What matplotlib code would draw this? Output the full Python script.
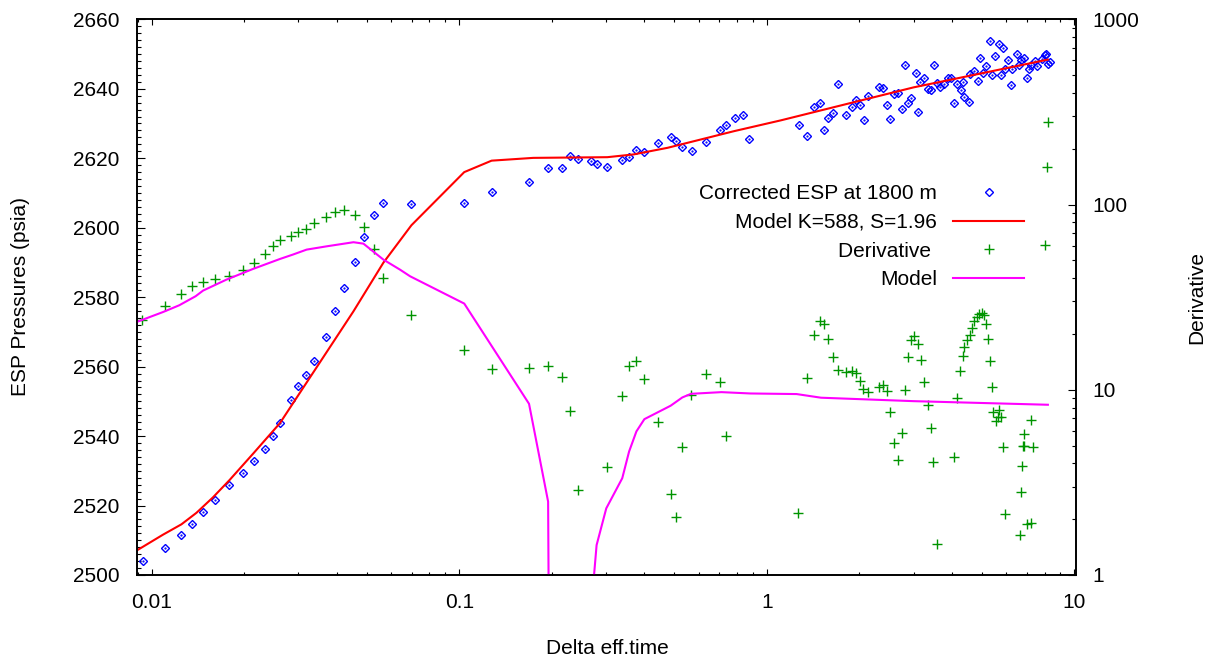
"""
ESP pressure build-up with model fit and derivative (semi-log / log-log twin axes).
"""
import numpy as np
import matplotlib
matplotlib.use("Agg")
import matplotlib.pyplot as plt
from matplotlib.ticker import MultipleLocator, LogLocator, FuncFormatter

plt.rcParams['font.family'] = ['Liberation Sans', 'DejaVu Sans']
plt.rcParams['font.size'] = 15

# Corrected ESP pressure at 1800 m (psia)
p_time = [0.00937, 0.01105, 0.01243, 0.0135, 0.01469, 0.01607, 0.01778, 0.01975,
          0.02154, 0.02328, 0.02472, 0.02611, 0.02829, 0.02996, 0.03167, 0.03363,
          0.03688, 0.03945, 0.04232, 0.04571, 0.04916, 0.05297, 0.05654, 0.0697,
          0.1038, 0.1274, 0.1686, 0.1945, 0.2165, 0.2299, 0.2435, 0.2685, 0.2801,
          0.3018, 0.3388, 0.357, 0.3763, 0.3997, 0.4426, 0.4866, 0.5065, 0.5312,
          0.5697, 0.6364, 0.7063, 0.7351, 0.7884, 0.8356, 0.8758,
          1.274, 1.349, 1.426, 1.485, 1.53, 1.585, 1.645, 1.708, 1.812, 1.892,
          1.954, 2.014, 2.065, 2.133, 2.311, 2.382, 2.46, 2.521, 2.586, 2.672,
          2.753, 2.815, 2.873, 2.944, 3.05, 3.104, 3.151, 3.248, 3.331, 3.41,
          3.49, 3.57, 3.652, 3.764, 3.878, 3.973, 4.064, 4.15, 4.263, 4.34,
          4.383, 4.527, 4.56, 4.71, 4.853, 4.925, 5.03, 5.176, 5.333, 5.38,
          5.515, 5.697, 5.76, 5.857, 5.95, 6.08, 6.22, 6.28, 6.486, 6.62,
          6.72, 6.88, 7.03, 7.1, 7.25, 7.42, 7.58, 7.85, 8.0, 8.1, 8.2, 8.3]
p_psia = [2504.1, 2507.9, 2511.5, 2514.7, 2518.1, 2521.7, 2525.9, 2529.5,
          2532.9, 2536.4, 2539.9, 2543.9, 2550.3, 2554.3, 2557.7, 2561.5,
          2568.6, 2575.9, 2582.7, 2590.2, 2597.2, 2603.7, 2607.0, 2606.9,
          2607.0, 2610.4, 2613.2, 2617.2, 2617.2, 2620.7, 2619.7, 2619.2, 2618.2,
          2617.5, 2619.6, 2620.4, 2622.3, 2621.7, 2624.3, 2626.2, 2625.0, 2623.2,
          2622.2, 2624.7, 2628.1, 2629.5, 2631.7, 2632.4, 2625.5,
          2629.6, 2626.5, 2634.8, 2636.0, 2628.1, 2631.6, 2632.9, 2641.3, 2632.4, 2634.7,
          2636.9, 2635.2, 2630.9, 2638.0, 2640.5, 2640.1, 2635.4, 2631.2, 2638.4, 2638.9,
          2634.2, 2646.8, 2635.8, 2637.3, 2644.5, 2633.4, 2642.0, 2643.0, 2639.9, 2639.6,
          2646.8, 2641.7, 2640.4, 2641.3, 2643.0, 2643.2, 2635.9, 2641.5, 2639.6, 2642.0,
          2637.6, 2636.1, 2644.2, 2645.0, 2642.3, 2649.0, 2644.6, 2646.6, 2653.8, 2644.0,
          2649.5, 2652.8, 2644.0, 2651.8, 2645.6, 2648.2, 2641.2, 2645.6, 2650.0, 2646.8,
          2648.2, 2648.9, 2643.1, 2645.6, 2646.8, 2647.9, 2646.6, 2648.7, 2649.7, 2650.0, 2647.1, 2647.6]

# Model pressure K=588, S=1.96
m_time = [0.00892, 0.01088, 0.01250, 0.01398, 0.0158, 0.01794, 0.0215, 0.02611, 0.03688,
          0.04528, 0.05665, 0.0699, 0.1038, 0.1274, 0.174, 0.303, 0.369, 0.4756,
          0.783, 1.11, 3.0, 8.2]
m_psia = [2507.0, 2511.6, 2514.6, 2517.9, 2522.3, 2527.4, 2535.2, 2543.7, 2563.9,
          2575.9, 2589.9, 2600.7, 2616.0, 2619.3, 2620.1, 2620.3, 2621.1, 2623.0,
          2627.8, 2630.9, 2640.4, 2648.4]

# Pressure derivative
d_time = [0.00933, 0.01105, 0.01243, 0.0135, 0.01469, 0.01607, 0.01778, 0.01975,
          0.02154, 0.02328, 0.02472, 0.02611, 0.02829, 0.02996, 0.03167, 0.03363,
          0.03688, 0.03945, 0.04232, 0.04571, 0.04916, 0.05297, 0.05654, 0.0697,
          0.1038, 0.1274, 0.1686, 0.1945, 0.2165, 0.2299, 0.2435, 0.3018, 0.3388,
          0.357, 0.3763, 0.3997, 0.4426, 0.4866, 0.5065, 0.5312, 0.567, 0.6364,
          0.7063, 0.7351, 1.264,
          1.35, 1.426, 1.485, 1.53, 1.585, 1.645, 1.708, 1.812, 1.892, 1.954,
          2.014, 2.05, 2.133, 2.311, 2.382, 2.46, 2.521, 2.6, 2.66, 2.76,
          2.815, 2.873, 2.944, 3.02, 3.11, 3.18, 3.248, 3.33, 3.42, 3.48, 3.57,
          4.064, 4.15, 4.25, 4.34, 4.39, 4.48, 4.56, 4.64, 4.73, 4.82, 4.9,
          5.0, 5.1, 5.17, 5.24, 5.3, 5.39, 5.44, 5.54, 5.63, 5.7, 5.76, 5.88,
          5.95, 6.63, 6.7, 6.77, 6.8, 6.88, 6.85, 7.0, 7.2, 7.25, 7.35,
          8.05, 8.15, 8.2]
d_value = [23.9, 28.4, 32.7, 36.2, 38.3, 39.6, 41.3, 44.2,
           48.6, 54.3, 59.8, 64.7, 68.0, 70.8, 74.1, 79.2,
           85.8, 91.3, 93.2, 87.9, 75.4, 57.8, 40.0, 25.2,
           16.3, 13.0, 13.1, 13.4, 11.75, 7.67, 2.87, 3.83, 9.25,
           13.4, 14.3, 11.5, 6.66, 2.74, 2.06, 4.92, 9.36, 12.2,
           10.96, 5.64, 2.15,
           11.6, 19.7, 23.6, 22.6, 18.9, 15.0, 12.8, 12.5, 12.7, 12.3,
           11.2, 10.1, 9.7, 10.3, 10.6, 9.8, 7.6, 5.16, 4.16, 5.84,
           9.95, 15.0, 18.5, 19.4, 17.7, 14.5, 11.0, 8.3, 6.2, 4.09, 1.47,
           4.35, 8.99, 12.7, 15.3, 17.1, 18.5, 19.7, 21.6, 23.4, 24.8, 25.6,
           25.9, 25.2, 22.6, 18.9, 14.3, 10.3, 7.6, 6.8, 7.1, 7.8, 7.1, 4.89,
           2.13, 1.64, 2.81, 3.86, 4.98, 4.98, 5.76, 1.88, 1.90, 6.88, 4.93,
           60.3, 160.0, 278.0]

# Model derivative (drops below 1 between ~0.195 and ~0.274)
md_time = [0.00892, 0.0109, 0.0123, 0.0139, 0.01469, 0.01749, 0.02135, 0.0261, 0.0288,
           0.0319, 0.0371, 0.0453, 0.0488, 0.0567, 0.0642, 0.0692, 0.1038,
           0.1686, 0.1945, 0.1952, 0.2736, 0.2796, 0.3006, 0.3388, 0.3566,
           0.3767, 0.3998, 0.4866, 0.5312, 0.567, 0.7121, 0.884, 1.25, 1.5,
           3.0, 8.2]
md_value = [23.2, 26.3, 28.6, 32.0, 34.3, 39.3, 44.9, 50.8, 53.7,
            57.1, 59.5, 62.6, 61.5, 50.4, 44.5, 41.0, 29.2,
            8.40, 2.49, 0.9, 0.95, 1.45, 2.29, 3.33, 4.64,
            5.96, 6.94, 8.20, 9.09, 9.51, 9.71, 9.55, 9.48, 9.06,
            8.68, 8.3]

W, H = 1218, 663
fig = plt.figure(figsize=(W / 100, H / 100), dpi=100)
ax = fig.add_axes([137.3 / W, 1 - 575 / H, (1076 - 137.3) / W, (575 - 19.3) / H])
ax2 = ax.twinx()

p1, = ax.plot(p_time, p_psia, linestyle='none', marker='D', ms=4.2, mfc='none',
              mec='#0000ff', mew=1.0, label='Corrected ESP at 1800 m')
ax.plot(p_time, p_psia, linestyle='none', marker='.', ms=1.2, color='#0000ff')
p2, = ax.plot(m_time, m_psia, color='#ff0000', lw=1.5, label='Model K=588, S=1.96')
p3, = ax2.plot(d_time, d_value, linestyle='none', marker='+', ms=6.5, mew=1.0,
               color='#009400', label='Derivative ')
p4, = ax2.plot(md_time, md_value, color='#ff00ff', lw=1.5, label='Model')

ax.set_xscale('log')
ax.set_xlim(0.00898, 10.12)
ax.set_ylim(2500, 2660)
ax.yaxis.set_major_locator(MultipleLocator(20))
ax.yaxis.set_minor_locator(MultipleLocator(2))
ax.xaxis.set_major_formatter(FuncFormatter(lambda v, p: '%g' % v))

ax2.set_yscale('log')
ax2.set_ylim(1, 1000)
ax2.yaxis.set_minor_locator(LogLocator(subs=np.arange(2, 10)))
ax2.yaxis.set_major_formatter(FuncFormatter(lambda v, p: '%g' % v))

ax.tick_params(axis='x', which='both', direction='in', top=True, bottom=True, pad=13, width=0.8)
ax.tick_params(axis='x', which='major', length=4.3)
ax.tick_params(axis='x', which='minor', length=2.2)
ax.tick_params(axis='y', which='both', direction='in', left=True, right=False, pad=13, width=0.8)
ax.tick_params(axis='y', which='major', length=6)
ax.tick_params(axis='y', which='minor', length=3)
ax2.tick_params(axis='y', which='both', direction='in', left=False, right=True, pad=12, width=0.8)
ax2.tick_params(axis='y', which='major', length=6)
ax2.tick_params(axis='y', which='minor', length=3)

for a in (ax, ax2):
    for s in a.spines.values():
        s.set_linewidth(1.2)

fig.text(21 / W, 1 - 297 / H, 'ESP Pressures (psia)', rotation=90, ha='center', va='center')
fig.text(1197 / W, 1 - 297 / H, 'Derivative', rotation=90, ha='center', va='center')
fig.text(607 / W, 1 - 648 / H, 'Delta eff.time', ha='center', va='center')

ax2.legend(handles=[p1, p2, p3, p4], loc='upper right', markerfirst=False, frameon=False,
           bbox_to_anchor=(1024 / W, 1 - 184 / H), bbox_transform=fig.transFigure,
           borderpad=0, borderaxespad=0, labelspacing=0.47, handlelength=3.4,
           handletextpad=0.77, numpoints=1)

fig.savefig('out.png', dpi=100)
